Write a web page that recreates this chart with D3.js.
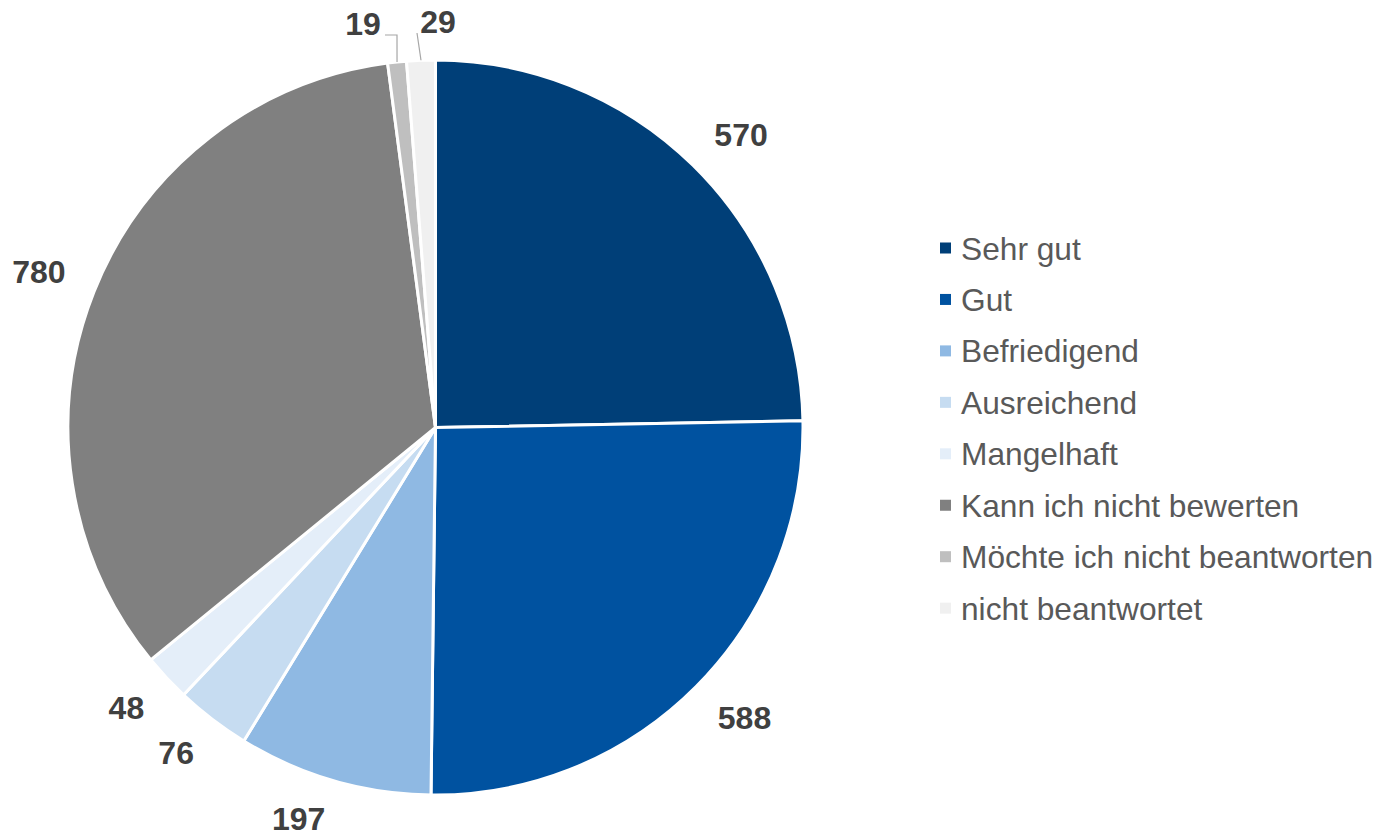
<!DOCTYPE html>
<html>
<head>
<meta charset="utf-8">
<script src="https://cdn.jsdelivr.net/npm/d3@7"></script>
<style>
  body { margin: 0; background: #fff; }
  svg { display: block; font-family: "Liberation Sans", Arial, sans-serif; }
</style>
</head>
<body>
<svg id="chart" width="1388" height="833"></svg>
<script>
// categories, values, colours
const categories = ['Sehr gut', 'Gut', 'Befriedigend', 'Ausreichend', 'Mangelhaft',
                    'Kann ich nicht bewerten', 'Möchte ich nicht beantworten', 'nicht beantwortet'];
const values = [570, 588, 197, 76, 48, 780, 19, 29];
const colors = ['#003f78', '#0052a0', '#8fb9e3', '#c6dcf1', '#e4eef9',
                '#808080', '#bfbfbf', '#f0f0f0'];

const svg = d3.select('#chart'),
      cx = 435.5, cy = 427.5, r = 367.5;

const pie = d3.pie().sort(null).value(d => d.value)
    .startAngle(0).endAngle(2 * Math.PI);
const arc = d3.arc().innerRadius(0).outerRadius(r);

const data = categories.map((c, i) => ({name: c, value: values[i], color: colors[i]}));
const arcs = pie(data);

const g = svg.append('g').attr('transform', `translate(${cx},${cy})`);

g.selectAll('path.slice')
    .data(arcs)
  .enter().append('path')
    .attr('class', 'slice')
    .attr('d', arc)
    .attr('fill', d => d.data.color)
    .attr('stroke', '#fff')
    .attr('stroke-width', 3)
    .attr('stroke-linejoin', 'round');

// data labels, outside end: nearest corner of the label box sits on radius R
const fs = 32, capH = 0.716 * fs, R = 398, hh = 9;
// labels that were dragged up in the original, with leader lines
const moved = {
    'Möchte ich nicht beantworten': {x: 363 - cx, y: 35 - cy, leader: [[397 - cx, 35 - cy], [385 - cx, 35 - cy]]},
    'nicht beantwortet': {x: 438 - cx, y: 33 - cy, leader: [[417 - cx, 33 - cy]]}
};

arcs.forEach(d => {
    const a = (d.startAngle + d.endAngle) / 2,
          ux = Math.sin(a), uy = -Math.cos(a);
    const t = g.append('text')
        .attr('text-anchor', 'middle')
        .attr('font-size', fs)
        .attr('font-weight', 'bold')
        .attr('fill', '#404040')
        .text(d.value);
    const m = moved[d.data.name];
    if (m) {
        t.attr('x', m.x).attr('y', m.y);
        const pts = [[r * ux, r * uy]].concat(m.leader);
        g.append('path')
            .attr('d', d3.line()(pts))
            .attr('fill', 'none')
            .attr('stroke', '#a6a6a6')
            .attr('stroke-width', 1.2);
        return;
    }
    const w = t.node().getComputedTextLength();
    const x = R * ux + Math.sign(ux) * w / 2,
          y = R * uy + Math.sign(uy) * hh;
    t.attr('x', x).attr('y', y + capH / 2);
});

// legend
const lg = svg.append('g').attr('transform', 'translate(940,248)');
const row = lg.selectAll('g.item')
    .data(data)
  .enter().append('g')
    .attr('class', 'item')
    .attr('transform', (d, i) => `translate(0,${i * 51.45})`);
row.append('rect')
    .attr('x', 0).attr('y', -5.5)
    .attr('width', 11).attr('height', 11)
    .attr('fill', d => d.color);
row.append('text')
    .attr('x', 21)
    .attr('y', 11.5)
    .attr('font-size', 31.7)
    .attr('fill', '#595959')
    .text(d => d.name);
</script>
</body>
</html>
